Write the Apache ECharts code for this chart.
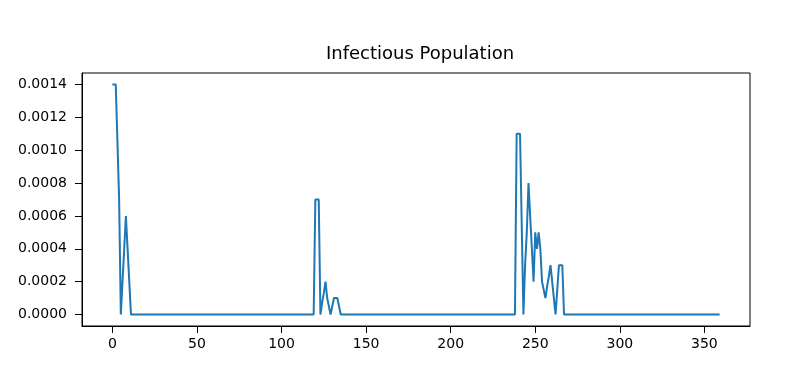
<!DOCTYPE html>
<html>
<head>
<meta charset="utf-8">
<script src="https://cdn.jsdelivr.net/npm/echarts@6/dist/echarts.min.js"></script>
<style>
html,body{margin:0;padding:0;background:#fff;}
#chart{width:789px;height:389px;}
</style>
</head>
<body>
<div id="chart"></div>
<script>
// Day index (breakpoints; values between listed days are constant zero runs)
const days = [0,1,2,3,4,5,6,7,8,9,10,11,
  119,120,121,122,123,124,125,126,127,128,129,130,131,132,133,134,135,
  238,239,240,241,242,243,244,245,246,247,248,249,250,251,252,253,254,255,256,257,258,259,260,261,262,263,264,265,266,267,
  359];
const infectious = [0.0014,0.0014,0.0014,0.0014,0.0007,0,0.0002,0.0004,0.0006,0.0004,0.0002,0,
  0,0.0007,0.0007,0.0007,0,0.00007,0.00013,0.0002,0.0001,0.0001,0,0.00005,0.0001,0.0001,0.0001,0.0001,0,
  0,0.0011,0.0011,0.0011,0.0011,0,0.0003,0.0005,0.0008,0.0006,0.0004,0.0002,0.0005,0.0004,0.0005,0.0004,0.0002,0.0002,0.0001,0.00017,0.00023,0.0003,0.0002,0.0001,0,0.00015,0.0003,0.0003,0.0003,0,
  0];
const xTicks = [0,50,100,150,200,250,300,350];
const yTicks = [0,0.0002,0.0004,0.0006,0.0008,0.0010,0.0012,0.0014];
const titleText = 'Infectious Population';

const chart = echarts.init(document.getElementById('chart'), null, {renderer:'canvas'});
const font = 'DejaVu Sans';
chart.setOption({
  animation:false,
  backgroundColor:'#ffffff',
  title:{
    text:titleText,
    left:415, top:40, textAlign:'center',
    textStyle:{fontFamily:font,fontSize:18,fontWeight:'normal',color:'#000'}
  },
  grid:{left:82,right:39,top:73,bottom:63,show:true,borderColor:'#000',borderWidth:1,backgroundColor:'transparent'},
  xAxis:{
    type:'value', min:-17.95, max:376.95,
    axisLine:{show:true,onZero:false,lineStyle:{color:'#000',width:1}},
    axisTick:{show:true,customValues:xTicks,length:7,lineStyle:{color:'#000',width:1}},
    axisLabel:{customValues:xTicks,fontFamily:font,fontSize:14,color:'#000',margin:11},
    splitLine:{show:false}
  },
  yAxis:{
    type:'value', min:-0.00007, max:0.00147,
    axisLine:{show:true,onZero:false,lineStyle:{color:'#000',width:1}},
    axisTick:{show:true,customValues:yTicks,length:7,lineStyle:{color:'#000',width:1}},
    axisLabel:{customValues:yTicks,fontFamily:font,fontSize:14,color:'#000',margin:15,
      formatter:v=>Number(v).toFixed(4)},
    splitLine:{show:false}
  },
  series:[{
    type:'line',
    data:days.map((d,i)=>[d,infectious[i]]),
    showSymbol:false,
    lineStyle:{color:'#1f77b4',width:2},
    itemStyle:{color:'#1f77b4'}
  }]
});
</script>
</body>
</html>
